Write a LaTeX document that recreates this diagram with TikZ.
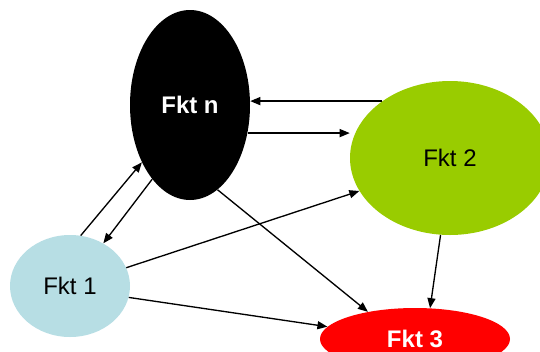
\documentclass[tikz,border=0pt]{standalone}
\usepackage{fontspec}
\setmainfont{Liberation Sans}
\usepackage{tikz}
\usetikzlibrary{positioning,arrows.meta,shapes.geometric}

\definecolor{fktblue}{RGB}{183,222,228}
\definecolor{fktgreen}{RGB}{153,204,0}

\begin{document}
\begin{tikzpicture}[
  x=0.75pt, y=-0.75pt,
  fkt/.style={ellipse, inner sep=0pt, align=center, font=\fontsize{18}{22}\selectfont},
  arrow/.style={-{Triangle[length=7.5pt,width=6pt]}, line width=1pt}
]
\clip (0,0) rectangle (540,351);
\useasboundingbox (0,0) rectangle (540,351);

\node[fkt, fill=black, text=white, font=\fontsize{18}{22}\selectfont\bfseries,
  minimum width=90pt, minimum height=142.5pt](fktn) at (190,105){Fkt n};
\node[fkt, fill=fktgreen, minimum width=150pt, minimum height=115.5pt](fkt2) at (450,158){Fkt 2};
\node[fkt, fill=fktblue, minimum width=90pt, minimum height=76.5pt](fkt1) at (70,286){Fkt 1};
\node[fkt, fill=red, text=white, font=\fontsize{18}{22}\selectfont\bfseries,
  minimum width=142.5pt, minimum height=46.5pt](fkt3) at (415,339){Fkt 3};

\draw[arrow] (fkt1.78) -- (fktn.230);
\draw[arrow] (fktn.243) -- (fkt1.52);
\draw[arrow] (fkt2.140) -- (fkt2.140 -| fktn.east);
\draw[arrow] (fktn.-26) -- (fktn.-26 -| fkt2.west);
\draw[arrow] (fkt1.18) -- (fkt2.200);
\draw[arrow] (fkt1.-11) -- (fkt3.172);
\draw[arrow] (fktn.-72) -- (fkt3.150);
\draw[arrow] (fkt2.263) -- (fkt3.64);

\end{tikzpicture}
\end{document}
